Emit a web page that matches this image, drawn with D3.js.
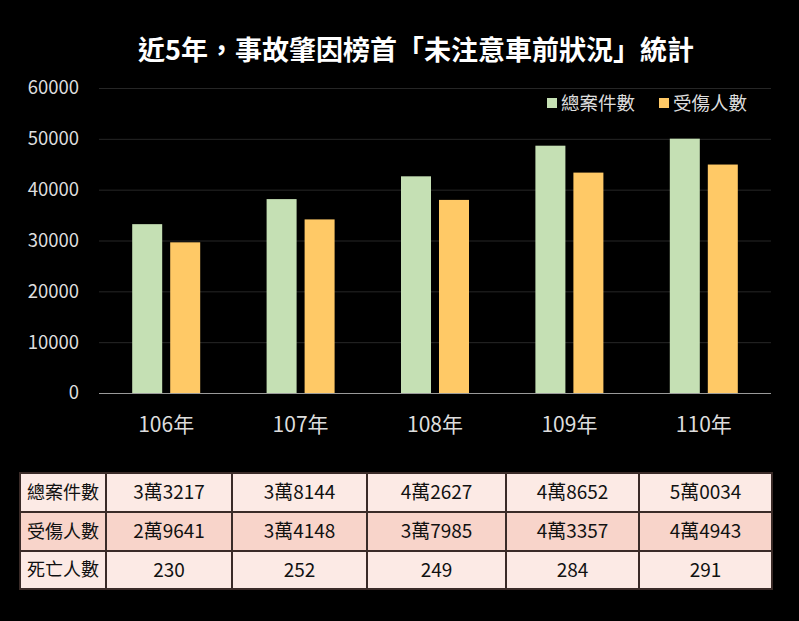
<!DOCTYPE html>
<html><head><meta charset="utf-8">
<script src="https://cdn.jsdelivr.net/npm/d3@7"></script>
<style>
html,body{margin:0;padding:0;background:#000;}
svg{display:block;font-family:"Noto Sans CJK TC","Noto Sans",sans-serif;}
</style></head>
<body>
<svg id="c" width="799" height="621"></svg>
<script>
const title = "近5年，事故肇因榜首「未注意車前狀況」統計";
const years = ["106年","107年","108年","109年","110年"];
const seriesNames = ["總案件數","受傷人數"];
const cases = [33217, 38144, 42627, 48652, 50034];
const injured = [29641, 34148, 37985, 43357, 44943];
const deaths = [230, 252, 249, 284, 291];
const rowNames = ["總案件數","受傷人數","死亡人數"];
const yTicks = [0,10000,20000,30000,40000,50000,60000];

const colors = ["#C5E0B4", "#FFC966"];
const svg = d3.select("#c");
svg.append("rect").attr("width",799).attr("height",621).attr("fill","#000");

svg.append("text").attr("x",416).attr("y",60).attr("text-anchor","middle")
  .attr("fill","#fff").attr("font-size",27).attr("font-weight","bold").text(title);

const x = d3.scaleBand().domain(years).range([99,771]);
const y = d3.scaleLinear().domain([0,60000]).range([393,88]);
const sub = d3.scaleBand().domain(seriesNames).range([-34,34]).paddingInner(8/38);

// gridlines
svg.append("g").selectAll("line").data(yTicks.filter(d=>d>0)).join("line")
  .attr("x1",99).attr("x2",771).attr("y1",d=>y(d)+0.5).attr("y2",d=>y(d)+0.5)
  .attr("stroke","#262626").attr("stroke-width",1);

// y axis labels
const yAxis = d3.axisLeft(y).tickValues(yTicks).tickSize(0).tickPadding(0).tickFormat(d=>String(d));
const ga = svg.append("g").attr("transform","translate(79,0)").call(yAxis);
ga.select(".domain").remove();
ga.selectAll("text").attr("fill","#ddd").attr("font-size",18.5).attr("font-family","Noto Sans CJK TC");

// bars
const series = [cases, injured];
series.forEach((vals,si)=>{
  svg.append("g").selectAll("rect").data(vals).join("rect")
    .attr("x",(d,i)=>x(years[i])+x.bandwidth()/2+sub(seriesNames[si]))
    .attr("width",sub.bandwidth())
    .attr("y",d=>y(d)).attr("height",d=>y(0)-y(d))
    .attr("fill",colors[si]);
});

// baseline
svg.append("line").attr("x1",99).attr("x2",771).attr("y1",y(0)+0.5).attr("y2",y(0)+0.5)
  .attr("stroke","#9a9a9a").attr("stroke-width",1);

// x labels
const xAxis = d3.axisBottom(x).tickSize(0).tickPadding(0);
const gx = svg.append("g").attr("transform","translate(0,417)").call(xAxis);
gx.select(".domain").remove();
gx.selectAll("text").attr("fill","#ddd").attr("font-size",21).attr("font-family","Noto Sans CJK TC");

// legend
const legX = [547, 659];
seriesNames.forEach((n,i)=>{
  svg.append("rect").attr("x",legX[i]).attr("y",98).attr("width",10).attr("height",10).attr("fill",colors[i]);
  svg.append("text").attr("x",legX[i]+14).attr("y",110).attr("fill","#ddd")
    .attr("font-size",18.5).text(n);
});

// table
const fmt = v => Math.floor(v/10000) + "萬" + String(v%10000).padStart(4,"0");
const rows = [cases.map(fmt), injured.map(fmt), deaths.map(String)];
const colEdges = [20,106,232,367,506,639,772];
const rowEdges = [473,512,551,589];
const rowFill = ["#FCEAE5","#F8D4CA","#FCEAE5"];
const tg = svg.append("g");
rows.forEach((r,ri)=>{
  tg.append("rect").attr("x",colEdges[0]).attr("y",rowEdges[ri])
    .attr("width",colEdges[6]-colEdges[0]).attr("height",rowEdges[ri+1]-rowEdges[ri])
    .attr("fill",rowFill[ri]);
  const cy = (rowEdges[ri]+rowEdges[ri+1])/2;
  tg.append("text").attr("x",27).attr("y",cy).attr("dy","0.36em")
    .attr("fill","#111").attr("font-size",18).text(rowNames[ri]);
  r.forEach((t,ci)=>{
    tg.append("text").attr("x",(colEdges[ci+1]+colEdges[ci+2])/2).attr("y",cy).attr("dy","0.36em")
      .attr("text-anchor","middle").attr("fill","#111").attr("font-size",19).text(t);
  });
});
const bc = "#3a2b28";
rowEdges.forEach(yy=>{
  tg.append("line").attr("x1",colEdges[0]).attr("x2",colEdges[6]).attr("y1",yy).attr("y2",yy)
    .attr("stroke",bc).attr("stroke-width",2);
});
colEdges.forEach(xx=>{
  tg.append("line").attr("x1",xx).attr("x2",xx).attr("y1",rowEdges[0]-1).attr("y2",rowEdges[3]+1)
    .attr("stroke",bc).attr("stroke-width",2);
});
</script>
</body></html>
